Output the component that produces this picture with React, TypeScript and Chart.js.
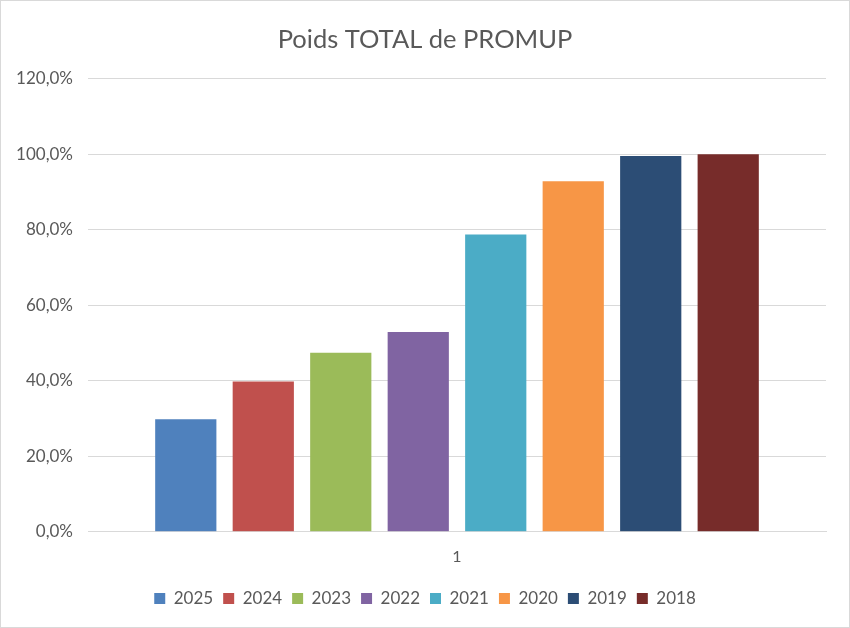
import { Chart, registerables } from "chart.js";
import { useEffect, useRef } from "react";

Chart.register(...registerables);

// une seule catégorie, une série par année
const categories = ["1"];
const years = ["2025", "2024", "2023", "2022", "2021", "2020", "2019", "2018"];
const poids = [29.8, 39.8, 47.4, 52.9, 78.7, 92.8, 99.5, 100];
const couleurs = [
    "#4F81BD", "#C0504D", "#9BBB59", "#8064A2",
    "#4BACC6", "#F79646", "#2C4D75", "#772C2A",
];

const police = "Lato, 'Noto Sans', sans-serif";
const gris = "#595959";

export default function App() {
    const chartRef = useRef<Chart | null>(null);
    const canvasRef = useRef<HTMLCanvasElement | null>(null);

    useEffect(() => {
        document.body.style.margin = "0";
        chartRef.current = new Chart(canvasRef.current!, {
            type: "bar",
            data: {
                labels: categories,
                datasets: years.map((y, i) => ({
                    label: y,
                    data: [poids[i]],
                    backgroundColor: couleurs[i],
                    borderWidth: 0,
                    categoryPercentage: 0.84,
                    barPercentage: 0.79,
                })),
            },
            options: {
                animation: false,
                responsive: true,
                maintainAspectRatio: false,
                layout: { padding: { left: 0, right: 0, top: 4, bottom: 10 } },
                plugins: {
                    title: {
                        display: true,
                        text: "Poids TOTAL de PROMUP",
                        color: gris,
                        font: { family: police, size: 25.5, weight: "normal" },
                        padding: { top: 19, bottom: 24 },
                    },
                    legend: {
                        position: "bottom",
                        labels: {
                            color: gris,
                            font: { family: police, size: 17 },
                            boxWidth: 11,
                            boxHeight: 11,
                            padding: 10,
                        },
                    },
                    tooltip: { enabled: false },
                },
                scales: {
                    x: {
                        grid: { display: false },
                        border: { color: "#d9d9d9" },
                        ticks: { color: gris, font: { family: police, size: 16 }, padding: 7 },
                        // un peu d'air entre l'étiquette et la légende
                        afterFit: (s) => { s.height += 7; },
                    },
                    y: {
                        min: 0,
                        max: 120,
                        ticks: {
                            stepSize: 20,
                            color: gris,
                            font: { family: police, size: 17 },
                            padding: 15,
                            callback: (v) => Number(v).toFixed(1).replace(".", ",") + "%",
                        },
                        grid: { color: "#d9d9d9", drawTicks: false },
                        border: { display: false },
                        afterFit: (s) => { s.width = 87; },
                    },
                    // marge droite, pour garder titre et légende centrés
                    marge: {
                        type: "linear",
                        position: "right",
                        grid: { display: false },
                        border: { display: false },
                        ticks: { display: false },
                        afterFit: (s) => { s.width = 23; },
                    },
                },
            },
        });

        return () => chartRef.current?.destroy();
    }, []);

    return (
        <div
            style={{
                position: "absolute",
                left: 0,
                top: 0,
                width: 850,
                height: 628,
                boxSizing: "border-box",
                border: "1px solid #d9d9d9",
                background: "#fff",
            }}
        >
            <canvas ref={canvasRef} />
        </div>
    );
}
